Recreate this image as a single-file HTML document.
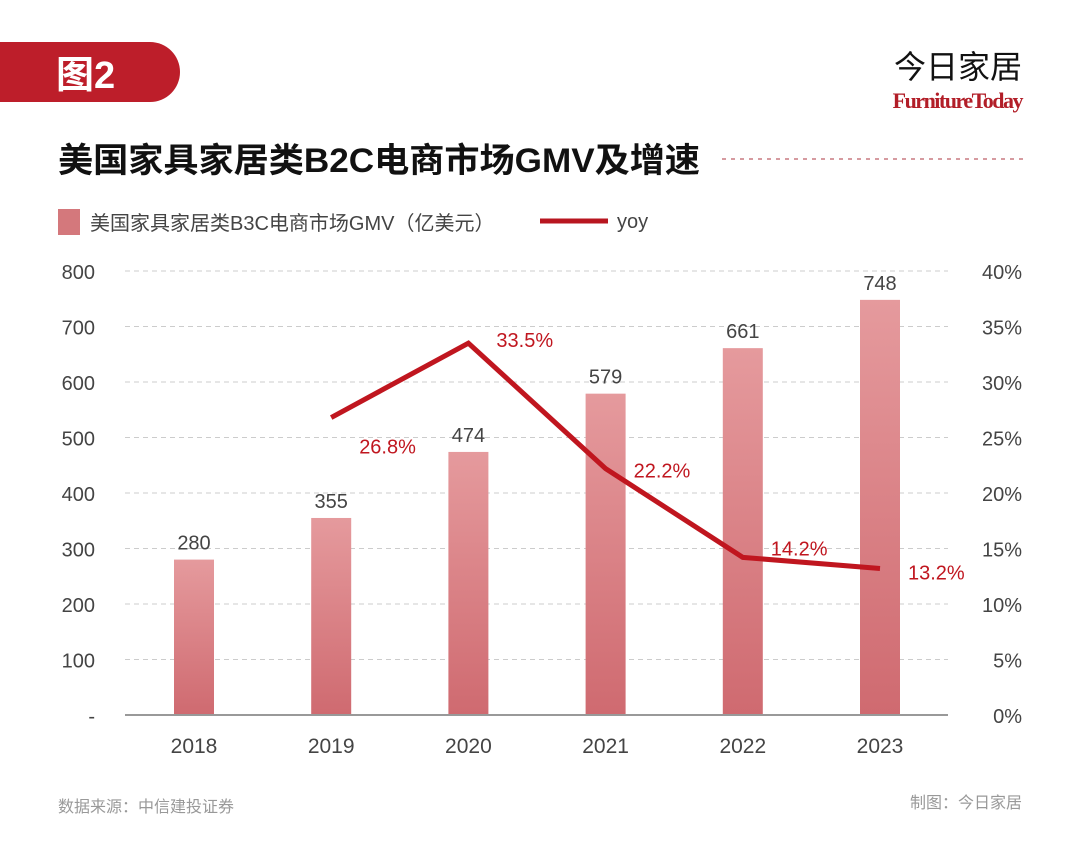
<!DOCTYPE html>
<html><head><meta charset="utf-8"><style>
body{margin:0;width:1080px;height:849px;background:#fff;overflow:hidden;font-family:"Liberation Sans","Noto Sans CJK SC",sans-serif}
</style></head><body>
<svg width="1080" height="849" xmlns="http://www.w3.org/2000/svg">
<defs><linearGradient id="bg" x1="0" y1="0" x2="0" y2="1"><stop offset="0" stop-color="#e59a9d"/><stop offset="1" stop-color="#cf6a70"/></linearGradient></defs>
<path d="M0 42 H150 A30 30 0 0 1 150 102 H0 Z" fill="#bd1e2a"/>
<text x="56" y="88" font-size="38" font-weight="bold" fill="#fff">图2</text>
<text x="1022" y="78" text-anchor="end" font-size="32" fill="#111">今日家居</text>
<text x="1022" y="108" text-anchor="end" font-size="22" font-weight="bold" fill="#b21e28" font-family="Liberation Serif,serif" letter-spacing="-1.5">FurnitureToday</text>
<text x="58" y="172" font-size="34" font-weight="bold" fill="#111" textLength="642" lengthAdjust="spacingAndGlyphs">美国家具家居类B2C电商市场GMV及增速</text>
<line x1="722" y1="159" x2="1024" y2="159" stroke="#c97a80" stroke-dasharray="4,5" stroke-width="1.5"/>
<rect x="58" y="209" width="22" height="26" fill="#d4787c"/>
<text x="90" y="230" font-size="20" fill="#444">美国家具家居类B3C电商市场GMV（亿美元）</text>
<line x1="540" y1="221" x2="608" y2="221" stroke="#b81620" stroke-width="5"/>
<text x="617" y="228" font-size="20" fill="#444">yoy</text>
<g id="plot"></g>
<text x="58" y="812" font-size="16" fill="#999">数据来源：中信建投证券</text>
<text x="1022" y="808" text-anchor="end" font-size="16" fill="#999">制图：今日家居</text>
</svg>
<script>
const years=["2018","2019","2020","2021","2022","2023"];
const gmv=[280,355,474,579,661,748];
const yoy=[null,26.8,33.5,22.2,14.2,13.2];
const leftTicks=["-","100","200","300","400","500","600","700","800"];
const rightTicks=["0%","5%","10%","15%","20%","25%","30%","35%","40%"];
const NS="http://www.w3.org/2000/svg";
const g=document.getElementById('plot');
const y0=715,yTop=271;
const yL=v=>y0-v/800*(y0-yTop);
const yR=v=>y0-v/40*(y0-yTop);
const xC=i=>194+i*137.2;
const labOff=[0,36,4,9,-2,11];
function mk(t,a,p){const e=document.createElementNS(NS,t);for(const k in a)e.setAttribute(k,a[k]);(p||g).appendChild(e);return e;}
leftTicks.forEach((t,i)=>{
 const y=yL(i*100);
 if(i>0){const l=mk('line',{x1:125,x2:948,y1:y,y2:y,stroke:'#ccc','stroke-dasharray':'5,4'});
 
 }
 const a=mk('text',{x:95,y:y+8,'text-anchor':'end','font-size':20,fill:'#444'});a.textContent=t;
 
 
 const b=mk('text',{x:1022,y:y+8,'text-anchor':'end','font-size':20,fill:'#444'});b.textContent=rightTicks[i];
 
 
});
years.forEach((yr,i)=>{
 const x=xC(i),h=yL(0)-yL(gmv[i]);
 const r=mk('rect',{x:x-20,y:yL(gmv[i]),width:40,height:h,fill:'url(#bg)'});
 
 
 const v=mk('text',{x:x,y:yL(gmv[i])-10,'text-anchor':'middle','font-size':20,fill:'#444'});v.textContent=gmv[i];
 
 
 const t=mk('text',{x:x,y:753,'text-anchor':'middle','font-size':21,fill:'#444'});t.textContent=yr;
 
 
});
const ax=mk('line',{x1:125,x2:948,y1:y0,y2:y0,stroke:'#999','stroke-width':2});


let pts=[];yoy.forEach((v,i)=>{if(v!==null)pts.push(xC(i)+','+yR(v));});
const pl=mk('polyline',{points:pts.join(' '),fill:'none',stroke:'#c0161f','stroke-width':5,'stroke-linejoin':'miter'});


yoy.forEach((v,i)=>{if(v===null)return;
 const t=mk('text',{x:xC(i)+28,y:yR(v)+labOff[i],'font-size':20,fill:'#c0161f'});
 t.textContent=v.toFixed(1)+'%';
 
 
});
</script>
</body></html>
